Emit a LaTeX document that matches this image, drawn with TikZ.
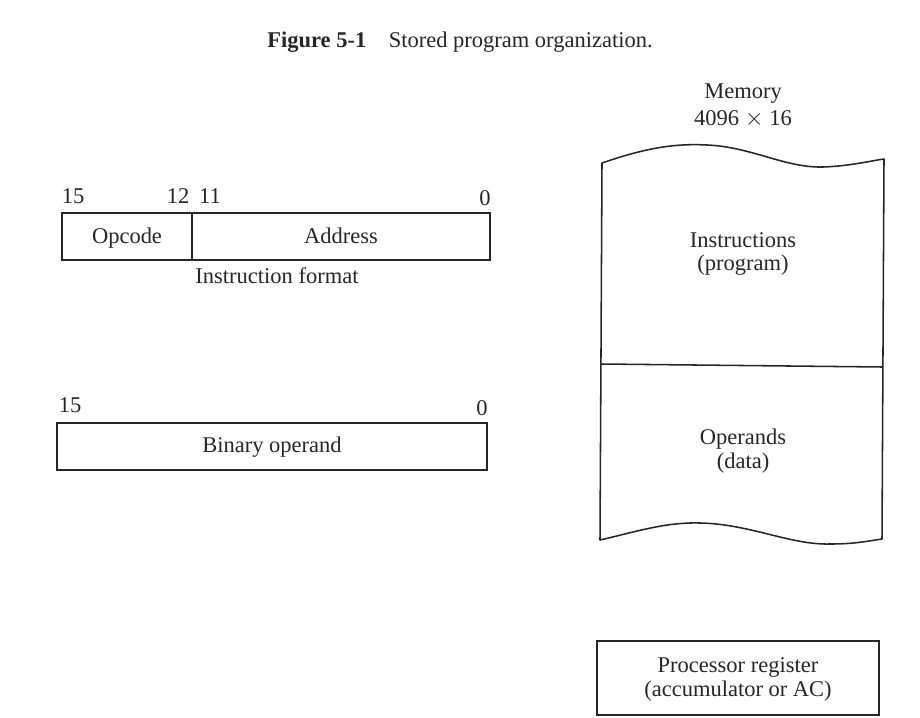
\documentclass[tikz,border=0pt]{standalone}
\usepackage{fontspec}
\setmainfont{Liberation Serif}
\begin{document}
\begin{tikzpicture}[x=0.025cm,y=-0.025cm,
    every node/.style={font=\fontsize{16}{17}\selectfont, text=black!85, inner sep=0pt},
    lbl/.style={text height=11pt, text depth=3pt},
    frame/.style={draw=black!85, line width=1.1pt}]
  \useasboundingbox (0,0) rectangle (920,717);
  % caption
  \node (title) at (460,42) {\textbf{Figure 5-1}\quad Stored program organization.};
  % instruction word
  \draw[frame] (62,213) rectangle (490,260);
  \draw[frame] (192,213) -- (192,260);
  \draw
    (73,198) node[lbl] (i15){15}
    (178,198) node[lbl] (i12){12}
    (210,198) node[lbl] (i11){11}
    (485,200) node[lbl] (i0){0}
    (127,238) node[lbl] (opcode){Opcode}
    (341,238) node[lbl] (address){Address}
    (277,278) node[lbl] (iformat){Instruction format};
  % data word
  \draw[frame] (57,423) rectangle (487,470);
  \draw
    (70,407) node[lbl] (d15){15}
    (482,410) node[lbl] (d0){0}
    (272,447) node[lbl] (operand){Binary operand};
  % memory
  \node[align=center] (memory) at (743,106) {Memory\\[2pt]4096 $\times$ 16};
  \draw[frame, line join=round]
    (602,163) .. controls (640,150) and (670,143) .. (707,145)
    .. controls (752,147) and (785,168) .. (823,167)
    .. controls (850,166) and (870,161) .. (884,159)
    -- (882,539)
    .. controls (868,541) and (855,544) .. (830,544)
    .. controls (790,545) and (750,524) .. (700,523)
    .. controls (665,522) and (635,532) .. (600,540)
    -- cycle;
  \draw[frame] (601,364) -- (883,367);
  \draw
    (743,254) node[align=center] (instr){Instructions\\(program)}
    (743,451) node[align=center] (data){Operands\\(data)};
  % accumulator
  \draw[frame] (597,641) rectangle (879,715);
  \node[align=center] (ac) at (738,679) {Processor register\\(accumulator or AC)};
\end{tikzpicture}
\end{document}
